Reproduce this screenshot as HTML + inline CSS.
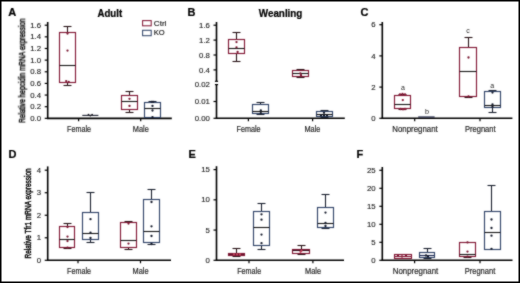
<!DOCTYPE html>
<html><head><meta charset="utf-8"><style>
html,body{margin:0;padding:0;background:#fff;}
body{width:520px;height:283px;overflow:hidden;}
svg{display:block;}
text{font-family:"Liberation Sans",sans-serif;}
</style></head><body>
<svg width="520" height="283" viewBox="0 0 520 283">
<defs><filter id="bl" x="0" y="0" width="520" height="283" filterUnits="userSpaceOnUse" color-interpolation-filters="sRGB"><feConvolveMatrix order="3" kernelMatrix="1 2 1 2 16 2 1 2 1" divisor="28" edgeMode="duplicate"/></filter></defs>
<g filter="url(#bl)">
<rect x="0" y="0" width="520" height="283" fill="#fff"/>
<text x="8.2" y="15.6" font-size="11" text-anchor="start" fill="#000" font-weight="bold" stroke="#000" stroke-width="0.22">A</text>
<text x="109.8" y="16.5" font-size="10.4" text-anchor="middle" fill="#000" font-weight="bold" textLength="24.6" lengthAdjust="spacingAndGlyphs" stroke="#000" stroke-width="0.22">Adult</text>
<line x1="47.7" y1="22.0" x2="47.7" y2="119.05" stroke="#000" stroke-width="1.6"/>
<line x1="44.7" y1="118.35" x2="47.7" y2="118.35" stroke="#000" stroke-width="1.2"/>
<text x="41.1" y="120.94999999999999" font-size="8.1" text-anchor="end" fill="#1e1e1e" font-weight="normal" textLength="10.84" lengthAdjust="spacingAndGlyphs" stroke="#1e1e1e" stroke-width="0.14">0.0</text>
<line x1="44.7" y1="106.71" x2="47.7" y2="106.71" stroke="#000" stroke-width="1.2"/>
<text x="41.1" y="109.30999999999999" font-size="8.1" text-anchor="end" fill="#1e1e1e" font-weight="normal" textLength="10.84" lengthAdjust="spacingAndGlyphs" stroke="#1e1e1e" stroke-width="0.14">0.2</text>
<line x1="44.7" y1="95.06" x2="47.7" y2="95.06" stroke="#000" stroke-width="1.2"/>
<text x="41.1" y="97.66" font-size="8.1" text-anchor="end" fill="#1e1e1e" font-weight="normal" textLength="10.84" lengthAdjust="spacingAndGlyphs" stroke="#1e1e1e" stroke-width="0.14">0.4</text>
<line x1="44.7" y1="83.42" x2="47.7" y2="83.42" stroke="#000" stroke-width="1.2"/>
<text x="41.1" y="86.02" font-size="8.1" text-anchor="end" fill="#1e1e1e" font-weight="normal" textLength="10.84" lengthAdjust="spacingAndGlyphs" stroke="#1e1e1e" stroke-width="0.14">0.6</text>
<line x1="44.7" y1="71.78" x2="47.7" y2="71.78" stroke="#000" stroke-width="1.2"/>
<text x="41.1" y="74.38" font-size="8.1" text-anchor="end" fill="#1e1e1e" font-weight="normal" textLength="10.84" lengthAdjust="spacingAndGlyphs" stroke="#1e1e1e" stroke-width="0.14">0.8</text>
<line x1="44.7" y1="60.13" x2="47.7" y2="60.13" stroke="#000" stroke-width="1.2"/>
<text x="41.1" y="62.730000000000004" font-size="8.1" text-anchor="end" fill="#1e1e1e" font-weight="normal" textLength="10.84" lengthAdjust="spacingAndGlyphs" stroke="#1e1e1e" stroke-width="0.14">1.0</text>
<line x1="44.7" y1="48.49" x2="47.7" y2="48.49" stroke="#000" stroke-width="1.2"/>
<text x="41.1" y="51.09" font-size="8.1" text-anchor="end" fill="#1e1e1e" font-weight="normal" textLength="10.84" lengthAdjust="spacingAndGlyphs" stroke="#1e1e1e" stroke-width="0.14">1.2</text>
<line x1="44.7" y1="36.84" x2="47.7" y2="36.84" stroke="#000" stroke-width="1.2"/>
<text x="41.1" y="39.440000000000005" font-size="8.1" text-anchor="end" fill="#1e1e1e" font-weight="normal" textLength="10.84" lengthAdjust="spacingAndGlyphs" stroke="#1e1e1e" stroke-width="0.14">1.4</text>
<line x1="44.7" y1="25.2" x2="47.7" y2="25.2" stroke="#000" stroke-width="1.2"/>
<text x="41.1" y="27.8" font-size="8.1" text-anchor="end" fill="#1e1e1e" font-weight="normal" textLength="10.84" lengthAdjust="spacingAndGlyphs" stroke="#1e1e1e" stroke-width="0.14">1.6</text>
<line x1="47.0" y1="118.35" x2="171.8" y2="118.35" stroke="#000" stroke-width="1.6"/>
<line x1="78.6" y1="118.35" x2="78.6" y2="121.35" stroke="#000" stroke-width="1.2"/>
<line x1="140.7" y1="118.35" x2="140.7" y2="121.35" stroke="#000" stroke-width="1.2"/>
<text x="79" y="131.6" font-size="8.4" text-anchor="middle" fill="#1e1e1e" font-weight="normal" textLength="24" lengthAdjust="spacingAndGlyphs" stroke="#1e1e1e" stroke-width="0.18">Female</text>
<text x="140.8" y="131.6" font-size="8.4" text-anchor="middle" fill="#1e1e1e" font-weight="normal" textLength="16" lengthAdjust="spacingAndGlyphs" stroke="#1e1e1e" stroke-width="0.18">Male</text>
<line x1="67.5" y1="26.5" x2="67.5" y2="32.5" stroke="#2a1519" stroke-width="1.1"/>
<line x1="63.5" y1="26.5" x2="71.5" y2="26.5" stroke="#2a1519" stroke-width="1.1"/>
<line x1="67.5" y1="82.5" x2="67.5" y2="85.5" stroke="#2a1519" stroke-width="1.1"/>
<line x1="63.5" y1="85.5" x2="71.5" y2="85.5" stroke="#2a1519" stroke-width="1.1"/>
<rect x="59.5" y="32.5" width="16.0" height="50.0" fill="none" stroke="#841b38" stroke-width="1.15"/>
<line x1="59.5" y1="65.5" x2="75.5" y2="65.5" stroke="#1a1a1a" stroke-width="1.1"/>
<circle cx="67.5" cy="33.6" r="1.15" fill="#7a1530"/>
<circle cx="67.5" cy="50.6" r="1.15" fill="#7a1530"/>
<circle cx="66.2" cy="81.1" r="1.15" fill="#7a1530"/>
<circle cx="68.7" cy="82.0" r="1.15" fill="#7a1530"/>
<line x1="82.3" y1="115.4" x2="98.4" y2="115.4" stroke="#1c2030" stroke-width="1.1"/>
<circle cx="88.5" cy="114.6" r="0.9" fill="#1a1a22"/>
<circle cx="92.1" cy="114.6" r="0.9" fill="#1a1a22"/>
<circle cx="90.3" cy="115.6" r="0.9" fill="#1a1a22"/>
<line x1="129.5" y1="91.5" x2="129.5" y2="95.5" stroke="#2a1519" stroke-width="1.1"/>
<line x1="125.5" y1="91.5" x2="133.5" y2="91.5" stroke="#2a1519" stroke-width="1.1"/>
<line x1="129.5" y1="109.5" x2="129.5" y2="112.5" stroke="#2a1519" stroke-width="1.1"/>
<line x1="125.5" y1="112.5" x2="133.5" y2="112.5" stroke="#2a1519" stroke-width="1.1"/>
<rect x="121.5" y="95.5" width="16.0" height="14.0" fill="none" stroke="#841b38" stroke-width="1.15"/>
<line x1="121.5" y1="101.5" x2="137.5" y2="101.5" stroke="#1a1a1a" stroke-width="1.1"/>
<circle cx="129.5" cy="98.8" r="1.15" fill="#7a1530"/>
<circle cx="129.5" cy="105.9" r="1.15" fill="#7a1530"/>
<line x1="152.5" y1="101.5" x2="152.5" y2="102.5" stroke="#1c2230" stroke-width="1.1"/>
<line x1="148.5" y1="101.5" x2="156.5" y2="101.5" stroke="#1c2230" stroke-width="1.1"/>
<rect x="144.5" y="102.5" width="16.0" height="15.0" fill="none" stroke="#34476b" stroke-width="1.15"/>
<line x1="144.5" y1="108.5" x2="160.5" y2="108.5" stroke="#1a1a1a" stroke-width="1.1"/>
<circle cx="151.8" cy="101.8" r="1.15" fill="#141a2a"/>
<circle cx="153.2" cy="101.8" r="1.15" fill="#141a2a"/>
<circle cx="152.5" cy="105.9" r="1.15" fill="#141a2a"/>
<circle cx="152.5" cy="110.5" r="1.15" fill="#141a2a"/>
<circle cx="152.5" cy="117.1" r="1.15" fill="#141a2a"/>
<rect x="142.6" y="20.6" width="8.6" height="5.2" fill="none" stroke="#841b38" stroke-width="1.05"/>
<rect x="142.6" y="30.3" width="8.6" height="5.4" fill="none" stroke="#34476b" stroke-width="1.05"/>
<text x="153.8" y="25.5" font-size="8.0" text-anchor="start" fill="#1e1e1e" font-weight="normal" textLength="12.6" lengthAdjust="spacingAndGlyphs" stroke="#1e1e1e" stroke-width="0.18">Ctrl</text>
<text x="153.8" y="35.0" font-size="7.9" text-anchor="start" fill="#1e1e1e" font-weight="normal" textLength="10.9" lengthAdjust="spacingAndGlyphs" stroke="#1e1e1e" stroke-width="0.18">KO</text>
<text transform="translate(25.1,70.6) rotate(-90)" font-size="9.8" text-anchor="middle" fill="#0a0a0a" stroke="#0a0a0a" stroke-width="0.5" textLength="104.4" lengthAdjust="spacingAndGlyphs">Relative hepcidin mRNA expression</text>
<text x="187.6" y="15.6" font-size="11" text-anchor="start" fill="#000" font-weight="bold" stroke="#000" stroke-width="0.22">B</text>
<text x="280.6" y="16.5" font-size="10.4" text-anchor="middle" fill="#000" font-weight="bold" textLength="43.6" lengthAdjust="spacingAndGlyphs" stroke="#000" stroke-width="0.22">Weanling</text>
<line x1="216.5" y1="22.0" x2="216.5" y2="81.4" stroke="#000" stroke-width="1.6"/>
<line x1="214.9" y1="81.3" x2="218.1" y2="81.3" stroke="#000" stroke-width="1.2"/>
<line x1="213.5" y1="25.2" x2="216.5" y2="25.2" stroke="#000" stroke-width="1.2"/>
<text x="209.9" y="27.8" font-size="8.1" text-anchor="end" fill="#1e1e1e" font-weight="normal" textLength="10.84" lengthAdjust="spacingAndGlyphs" stroke="#1e1e1e" stroke-width="0.14">1.6</text>
<line x1="213.5" y1="40.1" x2="216.5" y2="40.1" stroke="#000" stroke-width="1.2"/>
<text x="209.9" y="42.7" font-size="8.1" text-anchor="end" fill="#1e1e1e" font-weight="normal" textLength="10.84" lengthAdjust="spacingAndGlyphs" stroke="#1e1e1e" stroke-width="0.14">1.2</text>
<line x1="213.5" y1="55.0" x2="216.5" y2="55.0" stroke="#000" stroke-width="1.2"/>
<text x="209.9" y="57.6" font-size="8.1" text-anchor="end" fill="#1e1e1e" font-weight="normal" textLength="10.84" lengthAdjust="spacingAndGlyphs" stroke="#1e1e1e" stroke-width="0.14">0.8</text>
<line x1="213.5" y1="69.9" x2="216.5" y2="69.9" stroke="#000" stroke-width="1.2"/>
<text x="209.9" y="72.5" font-size="8.1" text-anchor="end" fill="#1e1e1e" font-weight="normal" textLength="10.84" lengthAdjust="spacingAndGlyphs" stroke="#1e1e1e" stroke-width="0.14">0.4</text>
<line x1="216.5" y1="84.1" x2="216.5" y2="118.9" stroke="#000" stroke-width="1.6"/>
<line x1="214.9" y1="84.6" x2="218.1" y2="84.6" stroke="#000" stroke-width="1.2"/>
<text x="209.9" y="87.3" font-size="8.1" text-anchor="end" fill="#1e1e1e" font-weight="normal" textLength="15.18" lengthAdjust="spacingAndGlyphs" stroke="#1e1e1e" stroke-width="0.14">0.02</text>
<line x1="213.5" y1="101.5" x2="216.5" y2="101.5" stroke="#000" stroke-width="1.2"/>
<text x="209.9" y="104.1" font-size="8.1" text-anchor="end" fill="#1e1e1e" font-weight="normal" textLength="15.18" lengthAdjust="spacingAndGlyphs" stroke="#1e1e1e" stroke-width="0.14">0.01</text>
<line x1="213.5" y1="118.3" x2="216.5" y2="118.3" stroke="#000" stroke-width="1.2"/>
<text x="209.9" y="120.89999999999999" font-size="8.1" text-anchor="end" fill="#1e1e1e" font-weight="normal" textLength="15.18" lengthAdjust="spacingAndGlyphs" stroke="#1e1e1e" stroke-width="0.14">0.00</text>
<line x1="215.8" y1="118.3" x2="344.8" y2="118.3" stroke="#000" stroke-width="1.6"/>
<line x1="248.4" y1="118.3" x2="248.4" y2="121.3" stroke="#000" stroke-width="1.2"/>
<line x1="312.6" y1="118.3" x2="312.6" y2="121.3" stroke="#000" stroke-width="1.2"/>
<text x="248.6" y="131.6" font-size="8.4" text-anchor="middle" fill="#1e1e1e" font-weight="normal" textLength="24" lengthAdjust="spacingAndGlyphs" stroke="#1e1e1e" stroke-width="0.18">Female</text>
<text x="312.4" y="131.6" font-size="8.4" text-anchor="middle" fill="#1e1e1e" font-weight="normal" textLength="16" lengthAdjust="spacingAndGlyphs" stroke="#1e1e1e" stroke-width="0.18">Male</text>
<line x1="236.5" y1="32.5" x2="236.5" y2="39.5" stroke="#2a1519" stroke-width="1.1"/>
<line x1="232.5" y1="32.5" x2="240.5" y2="32.5" stroke="#2a1519" stroke-width="1.1"/>
<line x1="236.5" y1="53.5" x2="236.5" y2="61.5" stroke="#2a1519" stroke-width="1.1"/>
<line x1="232.5" y1="61.5" x2="240.5" y2="61.5" stroke="#2a1519" stroke-width="1.1"/>
<rect x="228.5" y="39.5" width="16.0" height="14.0" fill="none" stroke="#841b38" stroke-width="1.15"/>
<line x1="228.5" y1="48.5" x2="244.5" y2="48.5" stroke="#1a1a1a" stroke-width="1.1"/>
<circle cx="236.5" cy="42.1" r="1.15" fill="#7a1530"/>
<circle cx="236.5" cy="47.3" r="1.15" fill="#7a1530"/>
<circle cx="237.6" cy="51.9" r="1.15" fill="#7a1530"/>
<line x1="260.5" y1="102.5" x2="260.5" y2="104.5" stroke="#1c2230" stroke-width="1.1"/>
<line x1="256.5" y1="102.5" x2="264.5" y2="102.5" stroke="#1c2230" stroke-width="1.1"/>
<line x1="260.5" y1="113.5" x2="260.5" y2="114.5" stroke="#1c2230" stroke-width="1.1"/>
<line x1="256.5" y1="114.5" x2="264.5" y2="114.5" stroke="#1c2230" stroke-width="1.1"/>
<rect x="252.5" y="104.5" width="16.0" height="9.0" fill="none" stroke="#34476b" stroke-width="1.15"/>
<line x1="252.5" y1="111.5" x2="268.5" y2="111.5" stroke="#1a1a1a" stroke-width="1.1"/>
<circle cx="260.8" cy="110.4" r="1.15" fill="#141a2a"/>
<circle cx="260.8" cy="113.2" r="1.15" fill="#141a2a"/>
<line x1="300.5" y1="69.5" x2="300.5" y2="70.5" stroke="#2a1519" stroke-width="1.1"/>
<line x1="296.5" y1="69.5" x2="304.5" y2="69.5" stroke="#2a1519" stroke-width="1.1"/>
<line x1="300.5" y1="76.5" x2="300.5" y2="77.5" stroke="#2a1519" stroke-width="1.1"/>
<line x1="296.5" y1="77.5" x2="304.5" y2="77.5" stroke="#2a1519" stroke-width="1.1"/>
<rect x="292.5" y="70.5" width="16.0" height="6.0" fill="none" stroke="#841b38" stroke-width="1.15"/>
<line x1="292.5" y1="73.5" x2="308.5" y2="73.5" stroke="#1a1a1a" stroke-width="1.1"/>
<circle cx="300.4" cy="73.4" r="1.15" fill="#7a1530"/>
<circle cx="301" cy="75.2" r="1.15" fill="#7a1530"/>
<line x1="324.5" y1="110.5" x2="324.5" y2="111.5" stroke="#1c2230" stroke-width="1.1"/>
<line x1="320.5" y1="110.5" x2="328.5" y2="110.5" stroke="#1c2230" stroke-width="1.1"/>
<line x1="324.5" y1="116.5" x2="324.5" y2="117.5" stroke="#1c2230" stroke-width="1.1"/>
<line x1="320.5" y1="117.5" x2="328.5" y2="117.5" stroke="#1c2230" stroke-width="1.1"/>
<rect x="316.5" y="111.5" width="16.0" height="5.0" fill="none" stroke="#34476b" stroke-width="1.15"/>
<line x1="316.5" y1="114.5" x2="332.5" y2="114.5" stroke="#1a1a1a" stroke-width="1.1"/>
<circle cx="324" cy="112.8" r="1.15" fill="#141a2a"/>
<circle cx="324" cy="115.5" r="1.15" fill="#141a2a"/>
<circle cx="321" cy="115.5" r="1.15" fill="#141a2a"/>
<circle cx="327" cy="115.5" r="1.15" fill="#141a2a"/>
<text x="360.4" y="15.6" font-size="11" text-anchor="start" fill="#000" font-weight="bold" stroke="#000" stroke-width="0.22">C</text>
<line x1="382.3" y1="22.0" x2="382.3" y2="119.0" stroke="#000" stroke-width="1.6"/>
<line x1="379.3" y1="118.3" x2="382.3" y2="118.3" stroke="#000" stroke-width="1.2"/>
<text x="375.7" y="120.89999999999999" font-size="8.1" text-anchor="end" fill="#1e1e1e" font-weight="normal" textLength="4.34" lengthAdjust="spacingAndGlyphs" stroke="#1e1e1e" stroke-width="0.14">0</text>
<line x1="379.3" y1="87.1" x2="382.3" y2="87.1" stroke="#000" stroke-width="1.2"/>
<text x="375.7" y="89.69999999999999" font-size="8.1" text-anchor="end" fill="#1e1e1e" font-weight="normal" textLength="4.34" lengthAdjust="spacingAndGlyphs" stroke="#1e1e1e" stroke-width="0.14">2</text>
<line x1="379.3" y1="55.9" x2="382.3" y2="55.9" stroke="#000" stroke-width="1.2"/>
<text x="375.7" y="58.5" font-size="8.1" text-anchor="end" fill="#1e1e1e" font-weight="normal" textLength="4.34" lengthAdjust="spacingAndGlyphs" stroke="#1e1e1e" stroke-width="0.14">4</text>
<line x1="379.3" y1="24.7" x2="382.3" y2="24.7" stroke="#000" stroke-width="1.2"/>
<text x="375.7" y="27.3" font-size="8.1" text-anchor="end" fill="#1e1e1e" font-weight="normal" textLength="4.34" lengthAdjust="spacingAndGlyphs" stroke="#1e1e1e" stroke-width="0.14">6</text>
<line x1="381.6" y1="118.3" x2="512.4" y2="118.3" stroke="#000" stroke-width="1.6"/>
<line x1="414.7" y1="118.3" x2="414.7" y2="121.3" stroke="#000" stroke-width="1.2"/>
<line x1="480.0" y1="118.3" x2="480.0" y2="121.3" stroke="#000" stroke-width="1.2"/>
<text x="415.0" y="132.0" font-size="8.4" text-anchor="middle" fill="#1e1e1e" font-weight="normal" textLength="45.4" lengthAdjust="spacingAndGlyphs" stroke="#1e1e1e" stroke-width="0.18">Nonpregnant</text>
<text x="480.3" y="132.0" font-size="8.4" text-anchor="middle" fill="#1e1e1e" font-weight="normal" textLength="30.6" lengthAdjust="spacingAndGlyphs" stroke="#1e1e1e" stroke-width="0.18">Pregnant</text>
<line x1="402.5" y1="94.5" x2="402.5" y2="95.5" stroke="#2a1519" stroke-width="1.1"/>
<line x1="398.5" y1="94.5" x2="406.5" y2="94.5" stroke="#2a1519" stroke-width="1.1"/>
<line x1="402.5" y1="108.5" x2="402.5" y2="109.5" stroke="#2a1519" stroke-width="1.1"/>
<line x1="398.5" y1="109.5" x2="406.5" y2="109.5" stroke="#2a1519" stroke-width="1.1"/>
<rect x="394.5" y="95.5" width="16.0" height="13.0" fill="none" stroke="#841b38" stroke-width="1.15"/>
<line x1="394.5" y1="104.5" x2="410.5" y2="104.5" stroke="#1a1a1a" stroke-width="1.1"/>
<circle cx="400" cy="94.3" r="1.15" fill="#8a1a38"/>
<circle cx="402.5" cy="93.9" r="1.15" fill="#8a1a38"/>
<circle cx="405" cy="94.3" r="1.15" fill="#8a1a38"/>
<circle cx="402.8" cy="100.1" r="1.15" fill="#8a1a38"/>
<circle cx="400.5" cy="109" r="1.15" fill="#8a1a38"/>
<circle cx="403" cy="109.3" r="1.15" fill="#8a1a38"/>
<circle cx="405" cy="109" r="1.15" fill="#8a1a38"/>
<line x1="418.2" y1="117.0" x2="434.6" y2="117.0" stroke="#1a2040" stroke-width="1.2"/>
<line x1="468.5" y1="37.5" x2="468.5" y2="47.5" stroke="#2a1519" stroke-width="1.1"/>
<line x1="464.5" y1="37.5" x2="472.5" y2="37.5" stroke="#2a1519" stroke-width="1.1"/>
<line x1="468.5" y1="96.5" x2="468.5" y2="97.5" stroke="#2a1519" stroke-width="1.1"/>
<line x1="464.5" y1="97.5" x2="472.5" y2="97.5" stroke="#2a1519" stroke-width="1.1"/>
<rect x="459.5" y="47.5" width="17.0" height="49.0" fill="none" stroke="#841b38" stroke-width="1.15"/>
<line x1="459.5" y1="71.5" x2="476.5" y2="71.5" stroke="#1a1a1a" stroke-width="1.1"/>
<circle cx="468.5" cy="57.5" r="1.15" fill="#7a1530"/>
<circle cx="468.5" cy="96.5" r="1.15" fill="#7a1530"/>
<line x1="492.5" y1="90.5" x2="492.5" y2="91.5" stroke="#1c2230" stroke-width="1.1"/>
<line x1="488.5" y1="90.5" x2="496.5" y2="90.5" stroke="#1c2230" stroke-width="1.1"/>
<line x1="492.5" y1="107.5" x2="492.5" y2="112.5" stroke="#1c2230" stroke-width="1.1"/>
<line x1="488.5" y1="112.5" x2="496.5" y2="112.5" stroke="#1c2230" stroke-width="1.1"/>
<rect x="484.5" y="91.5" width="16.0" height="16.0" fill="none" stroke="#34476b" stroke-width="1.15"/>
<line x1="484.5" y1="105.5" x2="500.5" y2="105.5" stroke="#1a1a1a" stroke-width="1.1"/>
<circle cx="492.5" cy="92.6" r="1.15" fill="#141a2a"/>
<circle cx="492.5" cy="104.5" r="1.15" fill="#141a2a"/>
<circle cx="492.5" cy="107.0" r="1.15" fill="#141a2a"/>
<text x="402.9" y="90.0" font-size="7.0" text-anchor="middle" fill="#1e1e1e" font-weight="normal">a</text>
<text x="426.9" y="114.1" font-size="7.2" text-anchor="middle" fill="#1e1e1e" font-weight="normal">b</text>
<text x="468.0" y="33.3" font-size="7.0" text-anchor="middle" fill="#1e1e1e" font-weight="normal">c</text>
<text x="492.3" y="87.6" font-size="7.0" text-anchor="middle" fill="#1e1e1e" font-weight="normal">a</text>
<text x="8.4" y="157.7" font-size="11" text-anchor="start" fill="#000" font-weight="bold" stroke="#000" stroke-width="0.22">D</text>
<line x1="47.7" y1="166.4" x2="47.7" y2="261.0" stroke="#000" stroke-width="1.6"/>
<line x1="44.7" y1="260.3" x2="47.7" y2="260.3" stroke="#000" stroke-width="1.2"/>
<text x="41.1" y="262.90000000000003" font-size="8.1" text-anchor="end" fill="#1e1e1e" font-weight="normal" textLength="4.34" lengthAdjust="spacingAndGlyphs" stroke="#1e1e1e" stroke-width="0.14">0</text>
<line x1="44.7" y1="237.78" x2="47.7" y2="237.78" stroke="#000" stroke-width="1.2"/>
<text x="41.1" y="240.38" font-size="8.1" text-anchor="end" fill="#1e1e1e" font-weight="normal" textLength="4.34" lengthAdjust="spacingAndGlyphs" stroke="#1e1e1e" stroke-width="0.14">1</text>
<line x1="44.7" y1="215.25" x2="47.7" y2="215.25" stroke="#000" stroke-width="1.2"/>
<text x="41.1" y="217.85" font-size="8.1" text-anchor="end" fill="#1e1e1e" font-weight="normal" textLength="4.34" lengthAdjust="spacingAndGlyphs" stroke="#1e1e1e" stroke-width="0.14">2</text>
<line x1="44.7" y1="192.72" x2="47.7" y2="192.72" stroke="#000" stroke-width="1.2"/>
<text x="41.1" y="195.32" font-size="8.1" text-anchor="end" fill="#1e1e1e" font-weight="normal" textLength="4.34" lengthAdjust="spacingAndGlyphs" stroke="#1e1e1e" stroke-width="0.14">3</text>
<line x1="44.7" y1="170.2" x2="47.7" y2="170.2" stroke="#000" stroke-width="1.2"/>
<text x="41.1" y="172.79999999999998" font-size="8.1" text-anchor="end" fill="#1e1e1e" font-weight="normal" textLength="4.34" lengthAdjust="spacingAndGlyphs" stroke="#1e1e1e" stroke-width="0.14">4</text>
<line x1="47.0" y1="260.3" x2="171.0" y2="260.3" stroke="#000" stroke-width="1.6"/>
<line x1="78.0" y1="260.3" x2="78.0" y2="263.3" stroke="#000" stroke-width="1.2"/>
<line x1="140.5" y1="260.3" x2="140.5" y2="263.3" stroke="#000" stroke-width="1.2"/>
<text x="79" y="273.6" font-size="8.4" text-anchor="middle" fill="#1e1e1e" font-weight="normal" textLength="24" lengthAdjust="spacingAndGlyphs" stroke="#1e1e1e" stroke-width="0.18">Female</text>
<text x="140.6" y="273.6" font-size="8.4" text-anchor="middle" fill="#1e1e1e" font-weight="normal" textLength="16" lengthAdjust="spacingAndGlyphs" stroke="#1e1e1e" stroke-width="0.18">Male</text>
<line x1="67.5" y1="223.5" x2="67.5" y2="226.5" stroke="#2a1519" stroke-width="1.1"/>
<line x1="63.5" y1="223.5" x2="71.5" y2="223.5" stroke="#2a1519" stroke-width="1.1"/>
<line x1="67.5" y1="247.5" x2="67.5" y2="248.5" stroke="#2a1519" stroke-width="1.1"/>
<line x1="63.5" y1="248.5" x2="71.5" y2="248.5" stroke="#2a1519" stroke-width="1.1"/>
<rect x="59.5" y="226.5" width="15.0" height="21.0" fill="none" stroke="#841b38" stroke-width="1.15"/>
<line x1="59.5" y1="239.5" x2="74.5" y2="239.5" stroke="#1a1a1a" stroke-width="1.1"/>
<circle cx="67.5" cy="227.0" r="1.15" fill="#7a1530"/>
<circle cx="67.5" cy="236.6" r="1.15" fill="#7a1530"/>
<circle cx="67.5" cy="241.1" r="1.15" fill="#7a1530"/>
<circle cx="67.5" cy="247.7" r="1.15" fill="#7a1530"/>
<line x1="90.5" y1="192.5" x2="90.5" y2="212.5" stroke="#1c2230" stroke-width="1.1"/>
<line x1="86.5" y1="192.5" x2="94.5" y2="192.5" stroke="#1c2230" stroke-width="1.1"/>
<line x1="90.5" y1="239.5" x2="90.5" y2="242.5" stroke="#1c2230" stroke-width="1.1"/>
<line x1="86.5" y1="242.5" x2="94.5" y2="242.5" stroke="#1c2230" stroke-width="1.1"/>
<rect x="82.5" y="212.5" width="16.0" height="27.0" fill="none" stroke="#34476b" stroke-width="1.15"/>
<line x1="82.5" y1="233.5" x2="98.5" y2="233.5" stroke="#1a1a1a" stroke-width="1.1"/>
<circle cx="90.5" cy="219.2" r="1.15" fill="#141a2a"/>
<circle cx="90.5" cy="232.7" r="1.15" fill="#141a2a"/>
<circle cx="90.5" cy="238.0" r="1.15" fill="#141a2a"/>
<line x1="128.5" y1="221.5" x2="128.5" y2="222.5" stroke="#2a1519" stroke-width="1.1"/>
<line x1="124.5" y1="221.5" x2="132.5" y2="221.5" stroke="#2a1519" stroke-width="1.1"/>
<line x1="128.5" y1="247.5" x2="128.5" y2="249.5" stroke="#2a1519" stroke-width="1.1"/>
<line x1="124.5" y1="249.5" x2="132.5" y2="249.5" stroke="#2a1519" stroke-width="1.1"/>
<rect x="120.5" y="222.5" width="16.0" height="25.0" fill="none" stroke="#841b38" stroke-width="1.15"/>
<line x1="120.5" y1="240.5" x2="136.5" y2="240.5" stroke="#1a1a1a" stroke-width="1.1"/>
<circle cx="128.5" cy="223.6" r="1.15" fill="#7a1530"/>
<circle cx="128.5" cy="243.6" r="1.15" fill="#7a1530"/>
<line x1="151.5" y1="189.5" x2="151.5" y2="199.5" stroke="#1c2230" stroke-width="1.1"/>
<line x1="147.5" y1="189.5" x2="155.5" y2="189.5" stroke="#1c2230" stroke-width="1.1"/>
<line x1="151.5" y1="242.5" x2="151.5" y2="244.5" stroke="#1c2230" stroke-width="1.1"/>
<line x1="147.5" y1="244.5" x2="155.5" y2="244.5" stroke="#1c2230" stroke-width="1.1"/>
<rect x="143.5" y="199.5" width="16.0" height="43.0" fill="none" stroke="#34476b" stroke-width="1.15"/>
<line x1="143.5" y1="231.5" x2="159.5" y2="231.5" stroke="#1a1a1a" stroke-width="1.1"/>
<circle cx="151.5" cy="202.0" r="1.15" fill="#141a2a"/>
<circle cx="151.5" cy="226.3" r="1.15" fill="#141a2a"/>
<circle cx="151.5" cy="236.0" r="1.15" fill="#141a2a"/>
<circle cx="151.5" cy="244.0" r="1.15" fill="#141a2a"/>
<text transform="translate(31.0,213.4) rotate(-90)" font-size="9.8" text-anchor="middle" fill="#0a0a0a" stroke="#0a0a0a" stroke-width="0.5" textLength="90.2" lengthAdjust="spacingAndGlyphs">Relative Tfr1 mRNA expression</text>
<text x="188.6" y="158.2" font-size="11" text-anchor="start" fill="#000" font-weight="bold" stroke="#000" stroke-width="0.22">E</text>
<line x1="216.5" y1="166.2" x2="216.5" y2="261.0" stroke="#000" stroke-width="1.6"/>
<line x1="213.5" y1="260.3" x2="216.5" y2="260.3" stroke="#000" stroke-width="1.2"/>
<text x="209.9" y="262.90000000000003" font-size="8.1" text-anchor="end" fill="#1e1e1e" font-weight="normal" textLength="4.34" lengthAdjust="spacingAndGlyphs" stroke="#1e1e1e" stroke-width="0.14">0</text>
<line x1="213.5" y1="230.07" x2="216.5" y2="230.07" stroke="#000" stroke-width="1.2"/>
<text x="209.9" y="232.67" font-size="8.1" text-anchor="end" fill="#1e1e1e" font-weight="normal" textLength="4.34" lengthAdjust="spacingAndGlyphs" stroke="#1e1e1e" stroke-width="0.14">5</text>
<line x1="213.5" y1="199.83" x2="216.5" y2="199.83" stroke="#000" stroke-width="1.2"/>
<text x="209.9" y="202.43" font-size="8.1" text-anchor="end" fill="#1e1e1e" font-weight="normal" textLength="8.68" lengthAdjust="spacingAndGlyphs" stroke="#1e1e1e" stroke-width="0.14">10</text>
<line x1="213.5" y1="169.6" x2="216.5" y2="169.6" stroke="#000" stroke-width="1.2"/>
<text x="209.9" y="172.2" font-size="8.1" text-anchor="end" fill="#1e1e1e" font-weight="normal" textLength="8.68" lengthAdjust="spacingAndGlyphs" stroke="#1e1e1e" stroke-width="0.14">15</text>
<line x1="215.8" y1="260.3" x2="344.0" y2="260.3" stroke="#000" stroke-width="1.6"/>
<line x1="249.0" y1="260.3" x2="249.0" y2="263.3" stroke="#000" stroke-width="1.2"/>
<line x1="312.9" y1="260.3" x2="312.9" y2="263.3" stroke="#000" stroke-width="1.2"/>
<text x="249.2" y="273.6" font-size="8.4" text-anchor="middle" fill="#1e1e1e" font-weight="normal" textLength="24" lengthAdjust="spacingAndGlyphs" stroke="#1e1e1e" stroke-width="0.18">Female</text>
<text x="313.0" y="273.6" font-size="8.4" text-anchor="middle" fill="#1e1e1e" font-weight="normal" textLength="16" lengthAdjust="spacingAndGlyphs" stroke="#1e1e1e" stroke-width="0.18">Male</text>
<line x1="236.5" y1="248.5" x2="236.5" y2="253.5" stroke="#2a1519" stroke-width="1.1"/>
<line x1="232.5" y1="248.5" x2="240.5" y2="248.5" stroke="#2a1519" stroke-width="1.1"/>
<line x1="236.5" y1="255.5" x2="236.5" y2="256.5" stroke="#2a1519" stroke-width="1.1"/>
<line x1="232.5" y1="256.5" x2="240.5" y2="256.5" stroke="#2a1519" stroke-width="1.1"/>
<rect x="228.5" y="253.5" width="16.0" height="2.0" fill="none" stroke="#841b38" stroke-width="1.15"/>
<line x1="228.5" y1="254.5" x2="244.5" y2="254.5" stroke="#6a1830" stroke-width="1.1"/>
<circle cx="234" cy="254.4" r="1.15" fill="#c0405a"/>
<circle cx="237" cy="254.4" r="1.15" fill="#c0405a"/>
<circle cx="240" cy="254.4" r="1.15" fill="#c0405a"/>
<line x1="261.5" y1="203.5" x2="261.5" y2="211.5" stroke="#1c2230" stroke-width="1.1"/>
<line x1="257.5" y1="203.5" x2="265.5" y2="203.5" stroke="#1c2230" stroke-width="1.1"/>
<line x1="261.5" y1="245.5" x2="261.5" y2="249.5" stroke="#1c2230" stroke-width="1.1"/>
<line x1="257.5" y1="249.5" x2="265.5" y2="249.5" stroke="#1c2230" stroke-width="1.1"/>
<rect x="253.5" y="211.5" width="16.0" height="34.0" fill="none" stroke="#34476b" stroke-width="1.15"/>
<line x1="253.5" y1="227.5" x2="269.5" y2="227.5" stroke="#1a1a1a" stroke-width="1.1"/>
<circle cx="261.5" cy="214.3" r="1.15" fill="#141a2a"/>
<circle cx="261.5" cy="219.7" r="1.15" fill="#141a2a"/>
<circle cx="261.5" cy="234.6" r="1.15" fill="#141a2a"/>
<circle cx="261.5" cy="243.2" r="1.15" fill="#141a2a"/>
<line x1="301.5" y1="245.5" x2="301.5" y2="249.5" stroke="#2a1519" stroke-width="1.1"/>
<line x1="297.5" y1="245.5" x2="305.5" y2="245.5" stroke="#2a1519" stroke-width="1.1"/>
<line x1="301.5" y1="253.5" x2="301.5" y2="254.5" stroke="#2a1519" stroke-width="1.1"/>
<line x1="297.5" y1="254.5" x2="305.5" y2="254.5" stroke="#2a1519" stroke-width="1.1"/>
<rect x="292.5" y="249.5" width="17.0" height="4.0" fill="none" stroke="#841b38" stroke-width="1.15"/>
<line x1="292.5" y1="250.5" x2="309.5" y2="250.5" stroke="#3a1020" stroke-width="1.1"/>
<circle cx="300.5" cy="251.8" r="1.15" fill="#c0405a"/>
<circle cx="301.5" cy="250.8" r="1.15" fill="#c0405a"/>
<line x1="325.5" y1="194.5" x2="325.5" y2="207.5" stroke="#1c2230" stroke-width="1.1"/>
<line x1="321.5" y1="194.5" x2="329.5" y2="194.5" stroke="#1c2230" stroke-width="1.1"/>
<line x1="325.5" y1="227.5" x2="325.5" y2="228.5" stroke="#1c2230" stroke-width="1.1"/>
<line x1="321.5" y1="228.5" x2="329.5" y2="228.5" stroke="#1c2230" stroke-width="1.1"/>
<rect x="317.5" y="207.5" width="16.0" height="20.0" fill="none" stroke="#34476b" stroke-width="1.15"/>
<line x1="317.5" y1="223.5" x2="333.5" y2="223.5" stroke="#1a1a1a" stroke-width="1.1"/>
<circle cx="325.5" cy="212.6" r="1.15" fill="#141a2a"/>
<circle cx="325.5" cy="223.0" r="1.15" fill="#141a2a"/>
<circle cx="325.5" cy="226.0" r="1.15" fill="#141a2a"/>
<text x="356.5" y="157.8" font-size="11" text-anchor="start" fill="#000" font-weight="bold" stroke="#000" stroke-width="0.22">F</text>
<line x1="382.3" y1="167.0" x2="382.3" y2="261.0" stroke="#000" stroke-width="1.6"/>
<line x1="379.3" y1="260.3" x2="382.3" y2="260.3" stroke="#000" stroke-width="1.2"/>
<text x="375.7" y="262.90000000000003" font-size="8.1" text-anchor="end" fill="#1e1e1e" font-weight="normal" textLength="4.34" lengthAdjust="spacingAndGlyphs" stroke="#1e1e1e" stroke-width="0.14">0</text>
<line x1="379.3" y1="242.3" x2="382.3" y2="242.3" stroke="#000" stroke-width="1.2"/>
<text x="375.7" y="244.9" font-size="8.1" text-anchor="end" fill="#1e1e1e" font-weight="normal" textLength="4.34" lengthAdjust="spacingAndGlyphs" stroke="#1e1e1e" stroke-width="0.14">5</text>
<line x1="379.3" y1="224.3" x2="382.3" y2="224.3" stroke="#000" stroke-width="1.2"/>
<text x="375.7" y="226.9" font-size="8.1" text-anchor="end" fill="#1e1e1e" font-weight="normal" textLength="8.68" lengthAdjust="spacingAndGlyphs" stroke="#1e1e1e" stroke-width="0.14">10</text>
<line x1="379.3" y1="206.3" x2="382.3" y2="206.3" stroke="#000" stroke-width="1.2"/>
<text x="375.7" y="208.9" font-size="8.1" text-anchor="end" fill="#1e1e1e" font-weight="normal" textLength="8.68" lengthAdjust="spacingAndGlyphs" stroke="#1e1e1e" stroke-width="0.14">15</text>
<line x1="379.3" y1="188.3" x2="382.3" y2="188.3" stroke="#000" stroke-width="1.2"/>
<text x="375.7" y="190.9" font-size="8.1" text-anchor="end" fill="#1e1e1e" font-weight="normal" textLength="8.68" lengthAdjust="spacingAndGlyphs" stroke="#1e1e1e" stroke-width="0.14">20</text>
<line x1="379.3" y1="170.3" x2="382.3" y2="170.3" stroke="#000" stroke-width="1.2"/>
<text x="375.7" y="172.9" font-size="8.1" text-anchor="end" fill="#1e1e1e" font-weight="normal" textLength="8.68" lengthAdjust="spacingAndGlyphs" stroke="#1e1e1e" stroke-width="0.14">25</text>
<line x1="381.6" y1="260.3" x2="512.5" y2="260.3" stroke="#000" stroke-width="1.6"/>
<line x1="414.6" y1="260.3" x2="414.6" y2="263.3" stroke="#000" stroke-width="1.2"/>
<line x1="480.0" y1="260.3" x2="480.0" y2="263.3" stroke="#000" stroke-width="1.2"/>
<text x="415.5" y="274.2" font-size="8.4" text-anchor="middle" fill="#1e1e1e" font-weight="normal" textLength="45.4" lengthAdjust="spacingAndGlyphs" stroke="#1e1e1e" stroke-width="0.18">Nonpregnant</text>
<text x="480.0" y="274.2" font-size="8.4" text-anchor="middle" fill="#1e1e1e" font-weight="normal" textLength="30.6" lengthAdjust="spacingAndGlyphs" stroke="#1e1e1e" stroke-width="0.18">Pregnant</text>
<rect x="394.5" y="254.5" width="17.0" height="4.0" fill="none" stroke="#841b38" stroke-width="1.15"/>
<line x1="394.5" y1="256.5" x2="411.5" y2="256.5" stroke="#841b38" stroke-width="1.1"/>
<circle cx="398" cy="255.5" r="1.15" fill="#841b38"/>
<circle cx="402" cy="256.5" r="1.15" fill="#841b38"/>
<circle cx="406" cy="255.5" r="1.15" fill="#841b38"/>
<line x1="427.5" y1="248.5" x2="427.5" y2="252.5" stroke="#1c2230" stroke-width="1.1"/>
<line x1="423.5" y1="248.5" x2="431.5" y2="248.5" stroke="#1c2230" stroke-width="1.1"/>
<line x1="427.5" y1="257.5" x2="427.5" y2="258.5" stroke="#1c2230" stroke-width="1.1"/>
<line x1="423.5" y1="258.5" x2="431.5" y2="258.5" stroke="#1c2230" stroke-width="1.1"/>
<rect x="419.5" y="252.5" width="15.0" height="5.0" fill="none" stroke="#34476b" stroke-width="1.15"/>
<line x1="419.5" y1="255.5" x2="434.5" y2="255.5" stroke="#1e2a55" stroke-width="1.1"/>
<circle cx="426" cy="255.5" r="1.15" fill="#141a2a"/>
<circle cx="428" cy="256.5" r="1.15" fill="#141a2a"/>
<line x1="467.5" y1="256.5" x2="467.5" y2="257.5" stroke="#2a1519" stroke-width="1.1"/>
<line x1="463.5" y1="257.5" x2="471.5" y2="257.5" stroke="#2a1519" stroke-width="1.1"/>
<rect x="459.5" y="242.5" width="16.0" height="14.0" fill="none" stroke="#841b38" stroke-width="1.15"/>
<line x1="459.5" y1="254.5" x2="475.5" y2="254.5" stroke="#1a1a1a" stroke-width="1.1"/>
<circle cx="467.5" cy="242.4" r="1.15" fill="#7a1530"/>
<circle cx="467.5" cy="251.6" r="1.15" fill="#7a1530"/>
<circle cx="467.5" cy="256.6" r="1.15" fill="#7a1530"/>
<line x1="491.5" y1="185.5" x2="491.5" y2="211.5" stroke="#1c2230" stroke-width="1.1"/>
<line x1="487.5" y1="185.5" x2="495.5" y2="185.5" stroke="#1c2230" stroke-width="1.1"/>
<rect x="484.5" y="211.5" width="16.0" height="38.0" fill="none" stroke="#34476b" stroke-width="1.15"/>
<line x1="484.5" y1="232.5" x2="500.5" y2="232.5" stroke="#1a1a1a" stroke-width="1.1"/>
<circle cx="491.5" cy="219.5" r="1.15" fill="#141a2a"/>
<circle cx="491.5" cy="228.0" r="1.15" fill="#141a2a"/>
<circle cx="491.5" cy="235.7" r="1.15" fill="#141a2a"/>
<circle cx="491.5" cy="248.8" r="1.15" fill="#141a2a"/>
</g>
<rect x="0.75" y="0.75" width="518.5" height="281.5" fill="none" stroke="#000" stroke-width="1.5"/>
</svg>
</body></html>
